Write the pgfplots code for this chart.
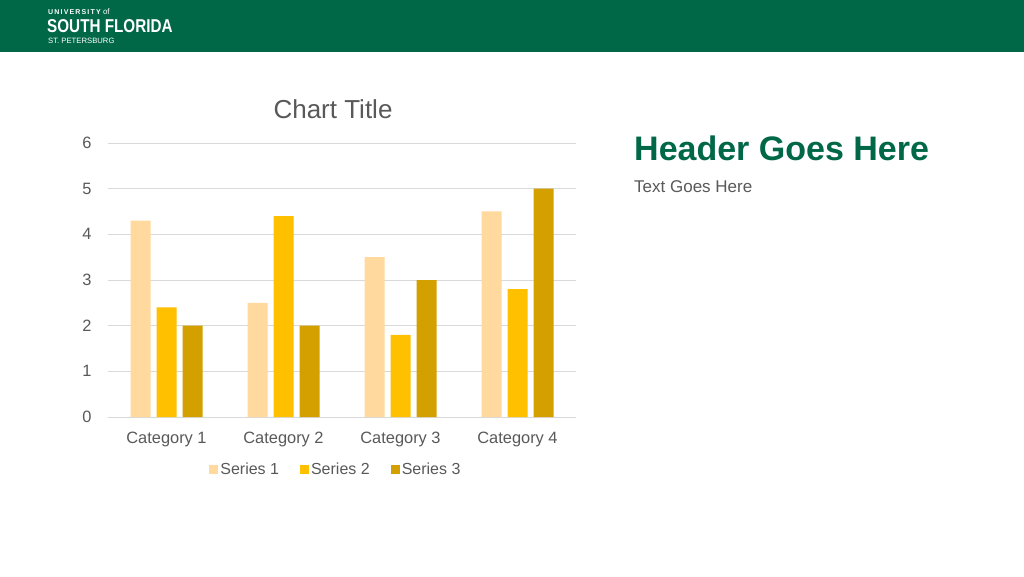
\documentclass[border=0pt]{standalone}
\usepackage{fontspec}
\setmainfont{Liberation Sans}
\newfontfamily\narrowbold[FakeStretch=0.82]{Liberation Sans Bold}
\usepackage{pgfplots}
\pgfplotsset{compat=1.18}

\definecolor{usfgreen}{RGB}{0,103,71}
\definecolor{txtgray}{RGB}{89,89,89}
\definecolor{gridgray}{RGB}{217,217,217}
\definecolor{serA}{RGB}{255,217,158}
\definecolor{serB}{RGB}{255,192,0}
\definecolor{serC}{RGB}{212,160,0}

\newcommand{\fs}[1]{\fontsize{#1}{#1}\selectfont}

\begin{document}
\begin{tikzpicture}[x=1pt,y=1pt]
% slide background and banner
\fill[white] (0,0) rectangle (1024,576);
\fill[usfgreen] (0,524) rectangle (1024,576);
\node[anchor=base west, inner sep=0, text=white] at (48,561)
  {\fs{7}\bfseries U\,N\,I\,V\,E\,R\,S\,I\,T\,Y\,\,\fs{8}\mdseries of};
\node[anchor=base west, inner sep=0, text=white] at (47,543)
  {\fs{18.6}\narrowbold SOUTH FLORIDA};
\node[anchor=base west, inner sep=0, text=white] at (48,532)
  {\fs{7.7}ST. PETERSBURG};

% right-hand text
\node[anchor=base west, inner sep=0, text=usfgreen] at (634,415)
  {\fs{34}\bfseries Header Goes Here};
\node[anchor=base west, inner sep=0, text=txtgray] at (634,383)
  {\fs{17}Text Goes Here};

% chart title
\node[anchor=base, inner sep=0, text=txtgray] at (333,457)
  {\fs{26}Chart Title};

\begin{axis}[
  at={(108pt,159pt)}, anchor=south west,
  scale only axis,
  width=468pt, height=274pt,
  ybar=6pt, bar width=20pt,
  xmin=0.5, xmax=4.5,
  ymin=0, ymax=6,
  xtick={1,2,3,4},
  xticklabels={Category 1,Category 2,Category 3,Category 4},
  ytick={0,1,...,6},
  ymajorgrids,
  grid style={gridgray, line width=0.8pt},
  axis line style={draw=none},
  major tick length=0pt,
  /pgf/number format/assume math mode=true,
  tick label style={font=\fs{16.4}, text=txtgray},
  yticklabel style={xshift=-13pt},
  xticklabel style={yshift=-12pt},
  legend columns=3,
  legend style={draw=none, fill=none, font=\fs{16}, text=txtgray,
    at={(0.487,-0.19)}, anchor=center,
    /tikz/every even column/.append style={column sep=19pt}},
  legend image code/.code={\fill[#1] (0pt,-4.5pt) rectangle (9pt,4.5pt);},
]
\addplot[fill=serA, draw=none] coordinates {(1,4.3) (2,2.5) (3,3.5) (4,4.5)};
\addplot[fill=serB, draw=none] coordinates {(1,2.4) (2,4.4) (3,1.8) (4,2.8)};
\addplot[fill=serC, draw=none] coordinates {(1,2) (2,2) (3,3) (4,5)};
\legend{Series 1,Series 2,Series 3}
\end{axis}
\end{tikzpicture}
\end{document}
